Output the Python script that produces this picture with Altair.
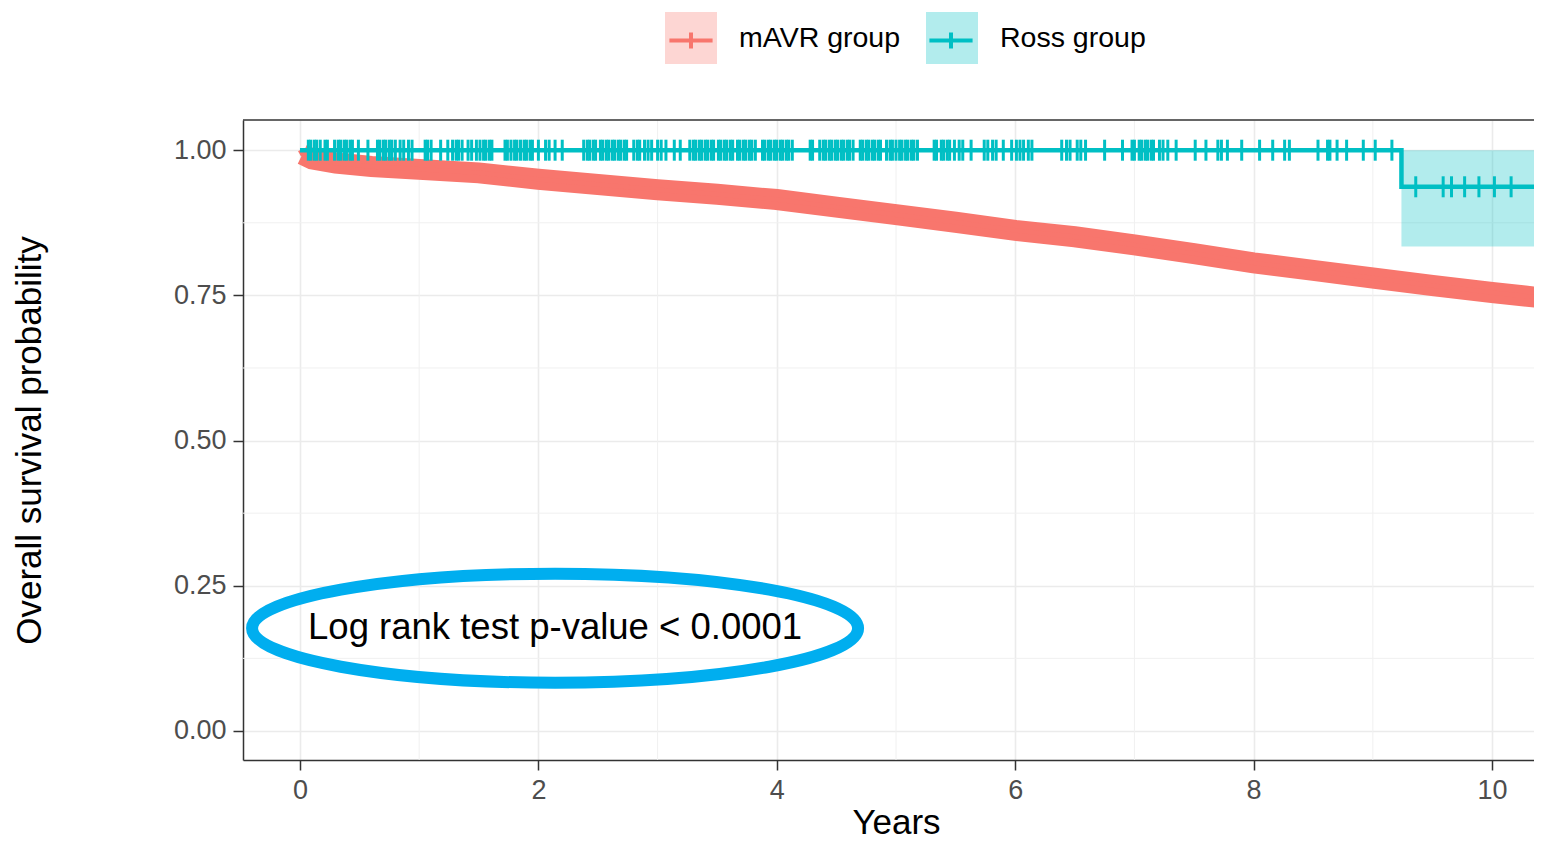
import altair as alt
import pandas as pd

FONT = "Liberation Sans, Arial, Helvetica, sans-serif"

# ---------------- data ----------------
group_names = ["mAVR group", "Ross group"]
group_colors = ["#F8766D", "#00BFC4"]

# mAVR Kaplan-Meier curve
mavr_time = [0.0, 0.02, 0.1, 0.3, 0.6, 1.0, 1.5, 2.0, 2.5, 3.0, 3.5, 4.0, 4.5,
             5.0, 5.5, 6.0, 6.5, 7.0, 7.5, 8.0, 8.5, 9.0, 9.5, 10.0, 10.5]
mavr_surv = [1.0, 0.993, 0.985, 0.978, 0.972, 0.967, 0.961, 0.950, 0.941, 0.932,
             0.924, 0.915, 0.902, 0.889, 0.876, 0.862, 0.851, 0.837, 0.822, 0.806,
             0.793, 0.780, 0.767, 0.755, 0.744]

# Ross Kaplan-Meier step curve and confidence band
ross_time = [0.0, 9.24, 10.5]
ross_surv = [1.0, 0.937, 0.937]
ross_ci_lower = [1.0, 0.834, 0.834]
ross_ci_upper = [1.0, 1.0, 1.0]

# Ross censoring times (years)
ross_censor_time = [
    0.07, 0.09, 0.12, 0.14, 0.17, 0.21, 0.23, 0.29, 0.32, 0.34, 0.37, 0.39, 0.42, 0.44, 0.49, 0.57,
    0.65, 0.67, 0.70, 0.72, 0.75, 0.77, 0.80, 0.84, 0.87, 0.91, 0.94, 1.05, 1.07, 1.10, 1.18, 1.24,
    1.28, 1.31, 1.33, 1.36, 1.41, 1.44, 1.48, 1.51, 1.54, 1.56, 1.59, 1.61, 1.72, 1.74, 1.77, 1.80,
    1.82, 1.85, 1.88, 1.90, 1.93, 1.95, 2.00, 2.06, 2.09, 2.14, 2.20,
    2.38, 2.41, 2.43, 2.46, 2.48, 2.52, 2.54, 2.57, 2.59, 2.62, 2.64, 2.67, 2.69, 2.72, 2.74, 2.80,
    2.83, 2.85, 2.89, 2.92, 2.95, 3.00, 3.03, 3.07, 3.14, 3.19,
    3.27, 3.30, 3.32, 3.35, 3.37, 3.40, 3.42, 3.45, 3.47, 3.51, 3.53, 3.56, 3.58, 3.61, 3.63,
    3.67, 3.69, 3.72, 3.74, 3.77, 3.79, 3.82, 3.88, 3.90, 3.93, 3.95, 3.98, 4.00, 4.03, 4.05, 4.08,
    4.10, 4.13, 4.28, 4.30, 4.36, 4.39, 4.41, 4.44, 4.46, 4.49, 4.51, 4.54, 4.56, 4.59, 4.61, 4.64,
    4.70, 4.72, 4.75, 4.77, 4.80, 4.82, 4.85, 4.87, 4.92, 4.95, 4.97, 5.00, 5.03, 5.05, 5.08, 5.10,
    5.13, 5.15, 5.18, 5.32, 5.34, 5.38, 5.40, 5.43, 5.45, 5.49, 5.53, 5.56, 5.63, 5.74, 5.77, 5.81,
    5.84, 5.90, 5.97, 6.01, 6.04, 6.07, 6.11, 6.14, 6.39, 6.43, 6.46, 6.52, 6.55, 6.59, 6.75, 6.90,
    6.98, 7.00, 7.04, 7.06, 7.09, 7.11, 7.14, 7.16, 7.21, 7.24, 7.28, 7.35, 7.51, 7.60, 7.70, 7.73,
    7.78, 7.90, 8.05, 8.16, 8.26, 8.30, 8.54, 8.62, 8.64, 8.70, 8.78, 8.92, 9.02, 9.16,
    9.36, 9.59, 9.66, 9.77, 9.89, 10.02, 10.16,
]

x_ticks = [0, 2, 4, 6, 8, 10]
y_ticks = [0.0, 0.25, 0.50, 0.75, 1.00]
x_minor = [1, 3, 5, 7, 9]
y_minor = [0.125, 0.375, 0.625, 0.875]

annotation_text = ["Log rank test p-value < 0.0001"]
annotation_time = [2.14]
annotation_surv = [0.177]

# ---------------- tables ----------------
def step_points(times, survs):
    pts = []
    for i, (t, s) in enumerate(zip(times, survs)):
        if i > 0:
            pts.append((t, survs[i - 1]))
        pts.append((t, s))
    return pts

def surv_at(t, times, survs):
    val = survs[0]
    for tt, ss in zip(times, survs):
        if tt <= t:
            val = ss
    return val

rows = []
for i, (t, s) in enumerate(zip(mavr_time, mavr_surv)):
    rows.append({"group": group_names[0], "time": t, "surv": s, "idx": i})
for i, (t, s) in enumerate(step_points(ross_time, ross_surv)):
    rows.append({"group": group_names[1], "time": t, "surv": s, "idx": i})
lines_df = pd.DataFrame(rows)

mavr_df = pd.DataFrame({"time": mavr_time, "surv": mavr_surv})
ribbon_df = pd.DataFrame({"band": [group_names[1]] * len(ross_time), "time": ross_time,
                          "lower": ross_ci_lower, "upper": ross_ci_upper})
censor_df = pd.DataFrame({"time": ross_censor_time,
                          "surv": [surv_at(t, ross_time, ross_surv) for t in ross_censor_time]})
xminor_df = pd.DataFrame({"time": x_minor})
yminor_df = pd.DataFrame({"surv": y_minor})
annot_df = pd.DataFrame({"label": annotation_text, "time": annotation_time, "surv": annotation_surv})
border_df = pd.DataFrame({"k": [0]})

# ---------------- scales / axes ----------------
W, H = 1291, 640
xs = alt.Scale(domain=[-0.478, 10.352], nice=False, zero=False)
ys = alt.Scale(domain=[-0.05, 1.052], nice=False, zero=False)
x_axis = alt.Axis(values=x_ticks, format="d", labelFlush=False, titleX=653, titleY=73,
                  titleBaseline="alphabetic", titleAlign="center")
y_axis = alt.Axis(values=y_ticks, format=".2f", titleX=-214, titleY=320,
                  titleBaseline="middle", titleAlign="center")

def X(f):
    return alt.X(f"{f}:Q", scale=xs, axis=x_axis, title="Years")

def Y(f):
    return alt.Y(f"{f}:Q", scale=ys, axis=y_axis, title="Overall survival probability")

LEG_X, LEG_Y = 422, -108
SYM = 2704
LEG_FS = 28.5
CROSS = "M-0.83,0H0.83M0,-0.31V0.31"
ELLIPSE = ("M-1,0C-1,-0.0994,-0.5523,-0.18,0,-0.18C0.5523,-0.18,1,-0.0994,1,0"
           "C1,0.0994,0.5523,0.18,0,0.18C-0.5523,0.18,-1,0.0994,-1,0Z")

# ---------------- layers ----------------
minor_x = alt.Chart(xminor_df).mark_rule(color="#F0F0F0", strokeWidth=1).encode(x=X("time"))
minor_y = alt.Chart(yminor_df).mark_rule(color="#F0F0F0", strokeWidth=1).encode(y=Y("surv"))

ribbon = alt.Chart(ribbon_df).mark_area(interpolate="step-after", opacity=0.3, clip=True).encode(
    x=X("time"), y=Y("lower"), y2=alt.Y2("upper:Q"),
    fill=alt.Fill("band:N", title=None,
                  scale=alt.Scale(domain=group_names, range=group_colors),
                  legend=alt.Legend(orient="none", legendX=LEG_X, legendY=LEG_Y,
                                    direction="horizontal", symbolType="square",
                                    symbolSize=SYM, symbolOpacity=0.3, symbolStrokeWidth=0,
                                    labelFont=FONT, labelFontSize=LEG_FS, labelColor="#000000",
                                    labelLimit=400, labelOffset=22, columnPadding=25,
                                    padding=0)),
)

mavr_band = alt.Chart(mavr_df).transform_filter("datum.time > 0").mark_line(
    color=group_colors[0], strokeWidth=21, strokeCap="butt", clip=True
).encode(x=X("time"), y=Y("surv"))

lines = alt.Chart(lines_df).mark_line(strokeWidth=4.5, clip=True).encode(
    x=X("time"), y=Y("surv"), order=alt.Order("idx:Q"),
    stroke=alt.Stroke("group:N", title=None, sort=group_names,
                      scale=alt.Scale(range=group_colors),
                      legend=alt.Legend(orient="none", legendX=LEG_X - 2, legendY=LEG_Y,
                                        direction="horizontal", symbolType=CROSS,
                                        symbolSize=SYM, symbolStrokeWidth=4, symbolOpacity=1,
                                        labelExpr="''", labelOffset=0, columnPadding=200,
                                        padding=0)),
)

censor = alt.Chart(censor_df).mark_tick(
    orient="vertical", size=21, thickness=3, color=group_colors[1], opacity=1, clip=True
).encode(x=X("time"), y=Y("surv"))

top_border = alt.Chart(border_df).mark_rule(color="#333333", strokeWidth=1.5).encode(
    x=alt.value(0), x2=alt.value(W), y=alt.value(0))

ellipse = alt.Chart(annot_df).mark_point(
    shape=ELLIPSE, size=367236, filled=False, strokeWidth=12, color="#00AEEF", opacity=1
).encode(x=X("time"), y=Y("surv"))

label = alt.Chart(annot_df).mark_text(
    font=FONT, fontSize=36.5, color="#000000", align="center", baseline="middle"
).encode(x=X("time"), y=Y("surv"), text="label:N")

chart = alt.layer(
    minor_x, minor_y, ribbon, mavr_band, lines, censor, top_border, ellipse, label
).properties(
    width=W, height=H,
    padding={"left": 235, "top": 112, "right": 0, "bottom": 82},
    autosize=alt.AutoSizeParams(type="none"),
).configure_view(strokeOpacity=0).configure_axis(
    labelFont=FONT, labelFontSize=27, labelColor="#4D4D4D", labelPadding=7,
    tickColor="#333333", tickWidth=1.5, tickSize=10,
    domainColor="#333333", domainWidth=1.5,
    gridColor="#EBEBEB", gridWidth=1.6,
    titleFont=FONT, titleFontSize=35, titleColor="#000000", titleFontWeight="normal",
)

chart.save("out.html", embed_options={"renderer": "svg", "actions": False})
